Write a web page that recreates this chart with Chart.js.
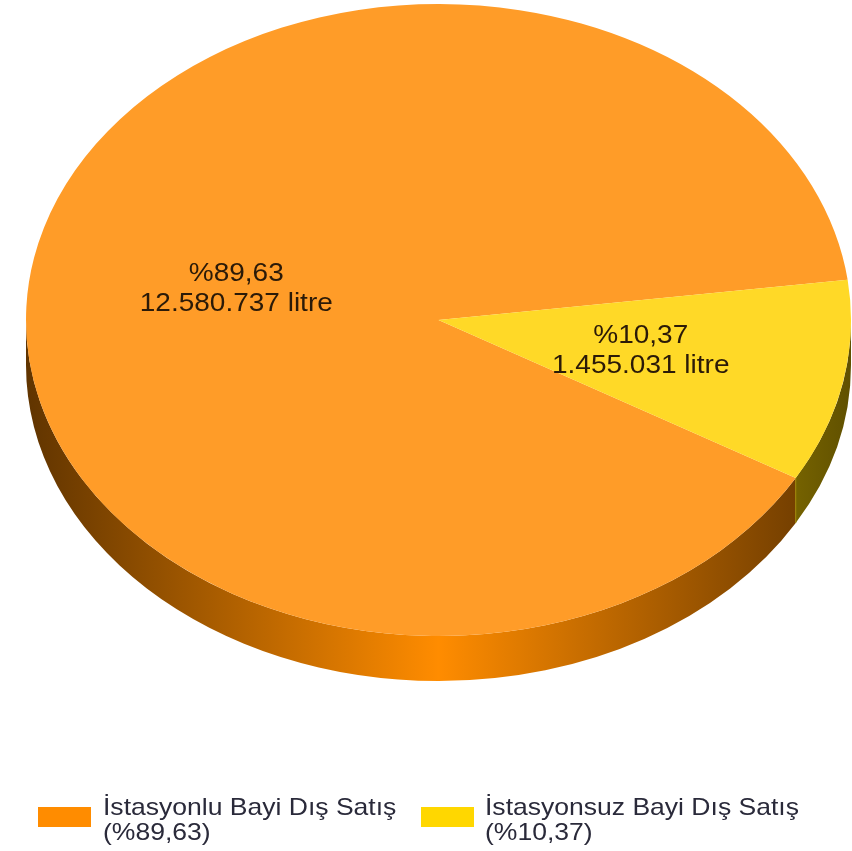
<!DOCTYPE html>
<html lang="tr">
<head>
<meta charset="utf-8">
<title>Bayi Dış Satış</title>
<script src="https://cdn.jsdelivr.net/npm/chart.js@4/dist/chart.umd.min.js"></script>
<style>
html,body{margin:0;padding:0;background:#fff;overflow:hidden}
canvas{display:block;filter:blur(0.7px)}
</style>
</head>
<body>
<canvas id="c" width="852" height="851"></canvas>
<script>
const categories = ['İstasyonlu Bayi Dış Satış', 'İstasyonsuz Bayi Dış Satış'];
const litres = [12580737, 1455031];
const percentLabels = ['%89,63', '%10,37'];
const litreLabels = ['12.580.737 litre', '1.455.031 litre'];
const faceColors = ['#FF9C28', '#FFD927'];
const sideColors = ['#FF8C00', '#FFD700'];
const sideDarkColors = ['#603400', '#605000'];
const legendColors = ['#FF8C00', '#FFD700'];

const FACE_CY = 320, SQUASH = 316 / 412.5, DEPTH = 45;

function drawSide(ctx, arc, i, cx, rx, ry) {
  const TAU = Math.PI * 2;
  let a = arc.startAngle, b = arc.endAngle;
  while (a < 0) { a += TAU; b += TAU; }
  while (a >= TAU) { a -= TAU; b -= TAU; }
  const ranges = [[a, Math.min(b, Math.PI)], [Math.max(a, TAU), Math.min(b, TAU + Math.PI)]];
  const g = ctx.createLinearGradient(cx - rx, 0, cx + rx, 0);
  g.addColorStop(0, sideDarkColors[i]);
  g.addColorStop(0.5, sideColors[i]);
  g.addColorStop(1, sideDarkColors[i]);
  ranges.forEach(([s, e]) => {
    if (e <= s) return;
    ctx.beginPath();
    ctx.ellipse(cx, FACE_CY, rx, ry, 0, s, e, false);
    ctx.ellipse(cx, FACE_CY + DEPTH, rx, ry, 0, e, s, true);
    ctx.closePath();
    ctx.fillStyle = g;
    ctx.fill();
  });
}

const pseudo3d = {
  id: 'pseudo3d',
  beforeDatasetsDraw(chart) {
    const ctx = chart.ctx, arcs = chart.getDatasetMeta(0).data;
    const cx = arcs[0].x, cy = arcs[0].y, r = arcs[0].outerRadius;
    const ry = r * SQUASH;
    ctx.save();
    drawSide(ctx, arcs[1], 1, cx, r, ry);
    drawSide(ctx, arcs[0], 0, cx, r, ry);
    // thin seam on the rim where the two slices meet
    const seam = arcs[0].startAngle;
    const sx = cx + r * Math.cos(seam), sy = FACE_CY + ry * Math.sin(seam);
    ctx.beginPath();
    ctx.moveTo(sx, sy);
    ctx.lineTo(sx, sy + DEPTH);
    ctx.strokeStyle = '#A08A00';
    ctx.lineWidth = 1;
    ctx.stroke();
    ctx.restore();
    ctx.save();
    ctx.translate(cx, FACE_CY);
    ctx.scale(1, SQUASH);
    ctx.translate(-cx, -cy);
  },
  afterDatasetsDraw(chart) {
    chart.ctx.restore();
  },
  afterDraw(chart) {
    const ctx = chart.ctx, arcs = chart.getDatasetMeta(0).data;
    const cy = arcs[0].y;
    ctx.save();
    ctx.textBaseline = 'middle';
    ctx.textAlign = 'center';
    ctx.fillStyle = '#2b1a08';
    ctx.font = '25px "Liberation Sans", Arial, sans-serif';
    arcs.forEach((arc, i) => {
      const p = arc.getCenterPoint();
      const x = p.x, y = FACE_CY + (p.y - cy) * SQUASH;
      [percentLabels[i], litreLabels[i]].forEach((t, k) => {
        ctx.save();
        ctx.translate(x, y + (k === 0 ? -15 : 15));
        ctx.scale(1.12, 1);
        ctx.fillText(t, 0, 0);
        ctx.restore();
      });
    });
    ctx.restore();

    // legend
    const swatchX = [38, 421], textX = [103, 485];
    ctx.save();
    ctx.textAlign = 'left';
    ctx.textBaseline = 'alphabetic';
    ctx.font = '24px "Liberation Sans", Arial, sans-serif';
    categories.forEach((name, i) => {
      ctx.fillStyle = legendColors[i];
      ctx.fillRect(swatchX[i], 807, 53, 20);
      ctx.fillStyle = '#2a2a3a';
      [name, '(' + percentLabels[i] + ')'].forEach((t, k) => {
        ctx.save();
        ctx.translate(textX[i], 815 + k * 25);
        ctx.scale(1.105, 1);
        ctx.fillText(t, 0, 0);
        ctx.restore();
      });
    });
    ctx.restore();
  }
};

new Chart(document.getElementById('c'), {
  type: 'pie',
  data: {
    labels: categories,
    datasets: [{
      data: litres,
      backgroundColor: faceColors,
      borderWidth: 0,
      hoverOffset: 0,
      clip: false
    }]
  },
  options: {
    responsive: false,
    animation: false,
    rotation: 120,
    layout: { padding: { left: 26, right: 1, top: 0, bottom: 26 } },
    plugins: { legend: { display: false }, tooltip: { enabled: false }, title: { display: false } }
  },
  plugins: [pseudo3d]
});
</script>
</body>
</html>
